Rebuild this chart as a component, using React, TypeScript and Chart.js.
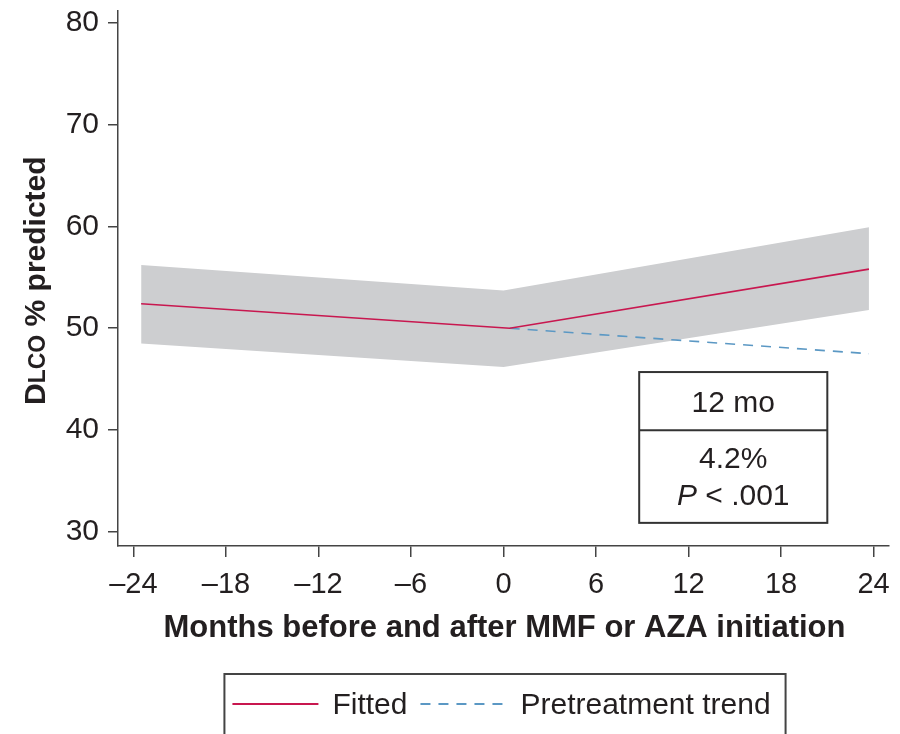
import React, { useEffect, useRef } from 'react';
import { Chart, registerables } from 'chart.js';

Chart.register(...registerables);

// ---- data ----
const xTicks = [-24, -18, -12, -6, 0, 6, 12, 18, 24];
const yTicks = [30, 40, 50, 60, 70, 80];
const bandMonths = [-23.5, 0, 23.7];
const bandUpper = [56.2, 53.7, 59.9];
const bandLower = [48.5, 46.2, 51.8];
const fittedMonths = [-23.5, 0.4, 23.7];
const fittedValues = [52.4, 50.0, 55.8];
const trendMonths = [0.4, 23.7];
const trendValues = [50.0, 47.5];
const seriesLabels = ['Fitted', 'Pretreatment trend'];
const boxMonths = [8.8, 21.0];
const boxValues = [30.9, 45.7];
const boxDivider = 40.0;
const boxHeader = '12 mo';
const boxChange = '4.2%';
const boxPItalic = 'P';
const boxPRest = ' < .001';
const xTitle = 'Months before and after MMF or AZA initiation';

const FONT = "'Liberation Sans', Arial, Helvetica, sans-serif";
const TEXT = '#231f20';
const AXIS = '#444444';
const RED = '#c8174f';
const BLUE = '#5b98c4';
const BAND = '#cdced0';

const pts = (xs: number[], ys: number[]) => xs.map((x, i) => ({ x, y: ys[i] }));

const overlay = {
  id: 'overlay',
  afterDraw(chart: any) {
    const { ctx, chartArea, scales } = chart;
    const xs = scales.x;
    const ys = scales.y;
    ctx.save();

    // Y title: D(LCO small caps) % predicted
    ctx.save();
    ctx.translate(45, 405);
    ctx.rotate(-Math.PI / 2);
    ctx.fillStyle = TEXT;
    ctx.textAlign = 'left';
    ctx.textBaseline = 'alphabetic';
    let cx = 0;
    ctx.font = `bold 30px ${FONT}`;
    ctx.fillText('D', cx, 0);
    cx += ctx.measureText('D').width;
    ctx.font = `bold 23px ${FONT}`;
    ctx.fillText('LCO', cx, 0);
    cx += ctx.measureText('LCO').width;
    ctx.font = `bold 30px ${FONT}`;
    ctx.fillText(' % predicted', cx, 0);
    ctx.restore();

    // X title
    ctx.fillStyle = TEXT;
    ctx.font = `bold 31px ${FONT}`;
    ctx.textAlign = 'center';
    ctx.textBaseline = 'alphabetic';
    ctx.fillText(xTitle, (chartArea.left + chartArea.right) / 2 + 1, 637);

    // Annotation box
    const bl = xs.getPixelForValue(boxMonths[0]);
    const br = xs.getPixelForValue(boxMonths[1]);
    const bt = ys.getPixelForValue(boxValues[1]);
    const bb = ys.getPixelForValue(boxValues[0]);
    const bd = ys.getPixelForValue(boxDivider);
    ctx.strokeStyle = '#333333';
    ctx.lineWidth = 2;
    ctx.strokeRect(bl, bt, br - bl, bb - bt);
    ctx.beginPath();
    ctx.moveTo(bl, bd);
    ctx.lineTo(br, bd);
    ctx.stroke();
    const bcx = (bl + br) / 2;
    ctx.font = `30px ${FONT}`;
    ctx.textAlign = 'center';
    ctx.fillText(boxHeader, bcx, bt + 40);
    ctx.fillText(boxChange, bcx, bd + 38);
    ctx.textAlign = 'left';
    ctx.font = `italic 30px ${FONT}`;
    const wP = ctx.measureText(boxPItalic).width;
    ctx.font = `30px ${FONT}`;
    const wR = ctx.measureText(boxPRest).width;
    const sx = bcx - (wP + wR) / 2;
    ctx.font = `italic 30px ${FONT}`;
    ctx.fillText(boxPItalic, sx, bd + 75);
    ctx.font = `30px ${FONT}`;
    ctx.fillText(boxPRest, sx + wP, bd + 75);

    // Legend
    const items = [chart.data.datasets[2], chart.data.datasets[3]];
    ctx.font = `30px ${FONT}`;
    const sampleW = 86;
    const gapST = 14;
    const gapTS = 13;
    const widths = items.map((d: any) => ctx.measureText(d.label).width);
    const contentW = sampleW * 2 + gapST * 2 + gapTS + widths[0] + widths[1];
    const center = (chartArea.left + chartArea.right) / 2 - 2;
    let lx = center - contentW / 2;
    const lyLine = 704;
    const lyText = 714;
    ctx.strokeStyle = AXIS;
    ctx.lineWidth = 2;
    ctx.strokeRect(lx - 8, 674, contentW + 23, 100);
    items.forEach((d: any, i: number) => {
      ctx.save();
      ctx.strokeStyle = d.borderColor;
      ctx.lineWidth = 2;
      ctx.setLineDash(d.borderDash || []);
      ctx.beginPath();
      ctx.moveTo(lx, lyLine);
      ctx.lineTo(lx + sampleW, lyLine);
      ctx.stroke();
      ctx.restore();
      lx += sampleW + gapST;
      ctx.fillStyle = TEXT;
      ctx.textAlign = 'left';
      ctx.fillText(d.label, lx, lyText);
      lx += widths[i] + gapTS;
    });

    ctx.restore();
  },
};

export default function App() {
  const ref = useRef<HTMLCanvasElement | null>(null);
  useEffect(() => {
    if (!ref.current) return;
    const chart = new Chart(ref.current, {
      type: 'line',
      data: {
        datasets: [
          {
            label: 'upper',
            data: pts(bandMonths, bandUpper),
            borderWidth: 0,
            borderColor: 'rgba(0,0,0,0)',
            pointRadius: 0,
            fill: false,
          },
          {
            label: 'lower',
            data: pts(bandMonths, bandLower),
            borderWidth: 0,
            borderColor: 'rgba(0,0,0,0)',
            backgroundColor: BAND,
            pointRadius: 0,
            fill: '-1',
          },
          {
            label: seriesLabels[0],
            data: pts(fittedMonths, fittedValues),
            borderColor: RED,
            borderWidth: 1.6,
            pointRadius: 0,
            fill: false,
          },
          {
            label: seriesLabels[1],
            data: pts(trendMonths, trendValues),
            borderColor: BLUE,
            borderWidth: 1.6,
            borderDash: [10, 8],
            pointRadius: 0,
            fill: false,
          },
        ],
      },
      options: {
        animation: false,
        responsive: false,
        events: [],
        layout: { padding: { top: 11, right: 11, left: 0, bottom: 0 } },
        plugins: {
          legend: { display: false },
          tooltip: { enabled: false },
          filler: { drawTime: 'beforeDatasetsDraw' },
        },
        scales: {
          x: {
            type: 'linear',
            min: -25,
            max: 25,
            afterBuildTicks: (s: any) => {
              s.ticks = xTicks.map((v) => ({ value: v }));
            },
            afterFit: (s: any) => {
              s.height = 188;
              s.paddingLeft = 0;
              s.paddingRight = 0;
            },
            ticks: {
              autoSkip: false,
              maxRotation: 0,
              padding: 11,
              color: TEXT,
              font: { family: FONT, size: 29 },
              callback: (v: any) => (v < 0 ? '\u2013' + Math.abs(v) : String(v)),
            },
            grid: { drawOnChartArea: false, drawTicks: true, tickLength: 11, color: AXIS, lineWidth: 1.5 },
            border: { display: true, color: AXIS, width: 1.5 },
          },
          y: {
            type: 'linear',
            min: 28.63,
            max: 81.13,
            afterBuildTicks: (s: any) => {
              s.ticks = yTicks.map((v) => ({ value: v }));
            },
            afterFit: (s: any) => {
              s.width = 118;
              s.paddingTop = 0;
              s.paddingBottom = 0;
            },
            ticks: {
              padding: 9,
              color: TEXT,
              font: { family: FONT, size: 30 },
            },
            grid: { drawOnChartArea: false, drawTicks: true, tickLength: 10, color: AXIS, lineWidth: 1.5 },
            border: { display: true, color: AXIS, width: 1.5 },
          },
        },
      },
      plugins: [overlay],
    });
    return () => chart.destroy();
  }, []);
  return (
    <div style={{ position: 'fixed', left: 0, top: 0, width: 900, height: 734, background: '#fff' }}>
      <canvas ref={ref} width={900} height={734} style={{ display: 'block' }} />
    </div>
  );
}
